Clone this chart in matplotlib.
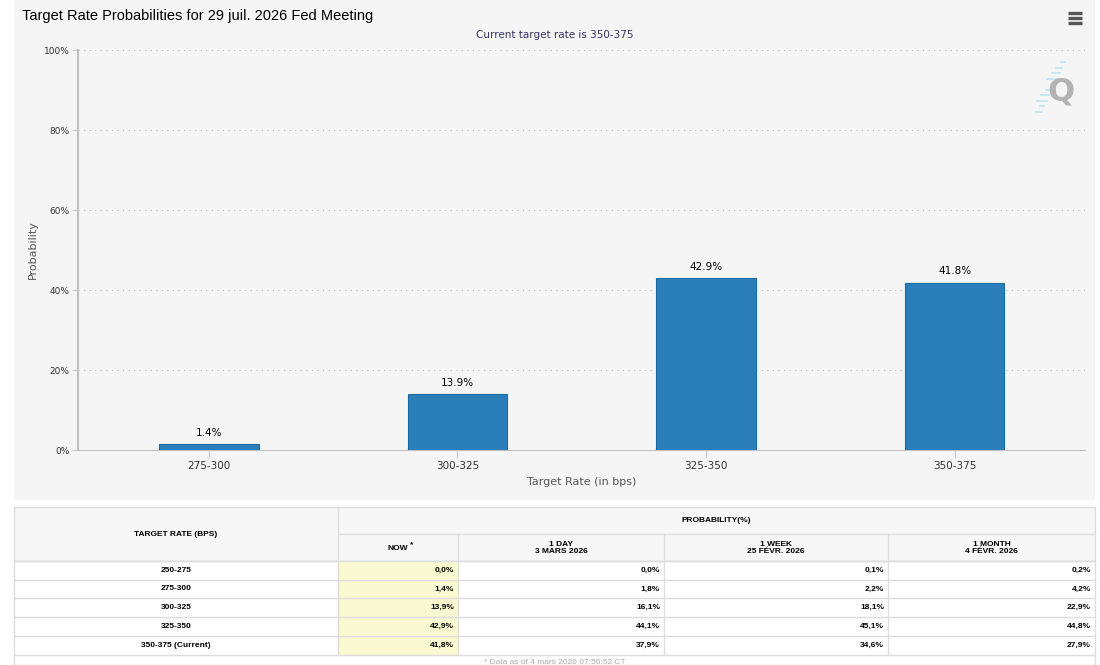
import matplotlib.pyplot as plt
from matplotlib.patches import Rectangle

# données du graphique
categories = ['275-300', '300-325', '325-350', '350-375']
probs = [1.4, 13.9, 42.9, 41.8]
yticks = [0, 20, 40, 60, 80, 100]

# données du tableau
rates = ['250-275', '275-300', '300-325', '325-350', '350-375 (Current)']
now = ['0,0%', '1,4%', '13,9%', '42,9%', '41,8%']
day1 = ['0,0%', '1,8%', '16,1%', '44,1%', '37,9%']
week1 = ['0,1%', '2,2%', '18,1%', '45,1%', '34,6%']
month1 = ['0,2%', '4,2%', '22,9%', '44,8%', '27,9%']
col_heads = ['NOW', '1 DAY\n3 MARS 2026', '1 WEEK\n25 FÉVR. 2026', '1 MONTH\n4 FÉVR. 2026']

plt.rcParams['font.family'] = ['DejaVu Sans']
W, H = 1100, 665
fig = plt.figure(figsize=(W/100, H/100), dpi=100)
fig.patch.set_facecolor('white')

# fond en pixels
bg = fig.add_axes([0, 0, 1, 1])
bg.set_xlim(0, W)
bg.set_ylim(H, 0)
bg.axis('off')
bg.add_patch(Rectangle((14, 0), 1081, 500, facecolor='#f5f5f5', edgecolor='none'))

# axe du graphique : x 78..1085, y 50..450
ax = fig.add_axes([78/W, 1-450/H, (1085-78)/W, 400/H])
ax.set_facecolor('none')
xs = range(len(categories))
bars = ax.bar(xs, probs, width=0.40, color='#2a7fba', edgecolor='#1f6aa0', linewidth=0.8, zorder=3)
for x, p in zip(xs, probs):
    ax.text(x, p + 1.6, '%.1f%%' % p, ha='center', va='bottom', fontsize=7.5, color='black')
ax.set_xlim(-0.527, 3.525)
ax.set_ylim(0, 100)
ax.set_yticks(yticks)
ax.set_yticklabels(['%d%%' % t for t in yticks], fontsize=6.5, color='#333333')
ax.set_xticks(list(xs))
ax.set_xticklabels(categories, fontsize=7.5, color='#333333')
ax.tick_params(axis='x', length=6, color='#cccccc', pad=2)
ax.tick_params(axis='y', length=4, color='#cccccc', pad=2)
ax.grid(axis='y', color='#bbbbbb', linestyle=(0, (1, 4)), linewidth=0.8)
for s in ['top', 'right']:
    ax.spines[s].set_visible(False)
ax.spines['left'].set_color('#c0c0c0')
ax.spines['left'].set_linewidth(1.5)
ax.spines['bottom'].set_color('#c0c0c0')
ax.spines['bottom'].set_linestyle((0, (2, 1)))
ax.set_xlabel('Target Rate (in bps)', fontsize=8, color='#555555', labelpad=4)
ax.set_ylabel('Probability', fontsize=8, color='#555555', labelpad=4)

bg.text(22, 16, 'Target Rate Probabilities for 29 juil. 2026 Fed Meeting',
        fontsize=10.5, family='Liberation Sans', va='center', ha='left', color='black')
bg.text(555, 35, 'Current target rate is 350-375', fontsize=7.5, ha='center', va='center', color='#333366')

# icône menu
for yy in [12.5, 17.5, 22.5]:
    bg.plot([1068, 1082], [yy, yy], color='#555555', lw=2.4, solid_capstyle='butt')
# logo Q
for i in range(10):
    y0 = 62 + i * 5.5
    xr = 1065 - i * 2.6
    bg.plot([xr - 4 - (i % 4) * 2, xr], [y0, y0], color='#bde6f5', lw=1.2)
bg.text(1061, 92, 'Q', fontsize=23, fontweight='bold', color='#b3b3b3', ha='center', va='center')

# tableau
fp = dict(family='Liberation Sans', fontweight='bold', fontsize=6.0, color='black')
cols = [14, 338, 458, 664, 888, 1095]
rows = [561, 580, 598, 617, 636, 655]
line = '#dddddd'
bg.add_patch(Rectangle((14, 507), 1081, 54, facecolor='#f7f7f7', edgecolor=line, lw=1))
bg.add_patch(Rectangle((14, 561), 1081, 104, facecolor='white', edgecolor=line, lw=1))
bg.add_patch(Rectangle((338, 561), 120, 94, facecolor='#fafad2', edgecolor='none'))
bg.plot([338, 338], [507, 655], color=line, lw=1)
bg.plot([338, 1095], [534, 534], color=line, lw=1)
for c in cols[2:5]:
    bg.plot([c, c], [534, 655], color=line, lw=1)
for r in rows:
    bg.plot([14, 1095], [r, r], color=line, lw=1)
bg.text(176, 534, 'TARGET RATE (BPS)', ha='center', va='center', **fp)
bg.text(716, 520, 'PROBABILITY(%)', ha='center', va='center', **fp)
for i, h in enumerate(col_heads):
    xc = (cols[i+1] + cols[i+2]) / 2
    bg.text(xc, 548, h, ha='center', va='center', linespacing=1.1, **fp)
bg.text(410, 545, '*', ha='left', va='center', **fp)
for j, r in enumerate(rates):
    yc = (rows[j] + rows[j+1]) / 2
    bg.text(176, yc, r, ha='center', va='center', **fp)
    for k, vals in enumerate([now, day1, week1, month1]):
        bg.text(cols[k+2] - 4, yc, vals[j], ha='right', va='center', **fp)
bg.text(555, 662, '* Data as of 4 mars 2026 07:56:52 CT', ha='center', va='center',
        family='Liberation Sans', fontsize=6.0, color='#aaaaaa')

fig.savefig('out.png', dpi=100)
